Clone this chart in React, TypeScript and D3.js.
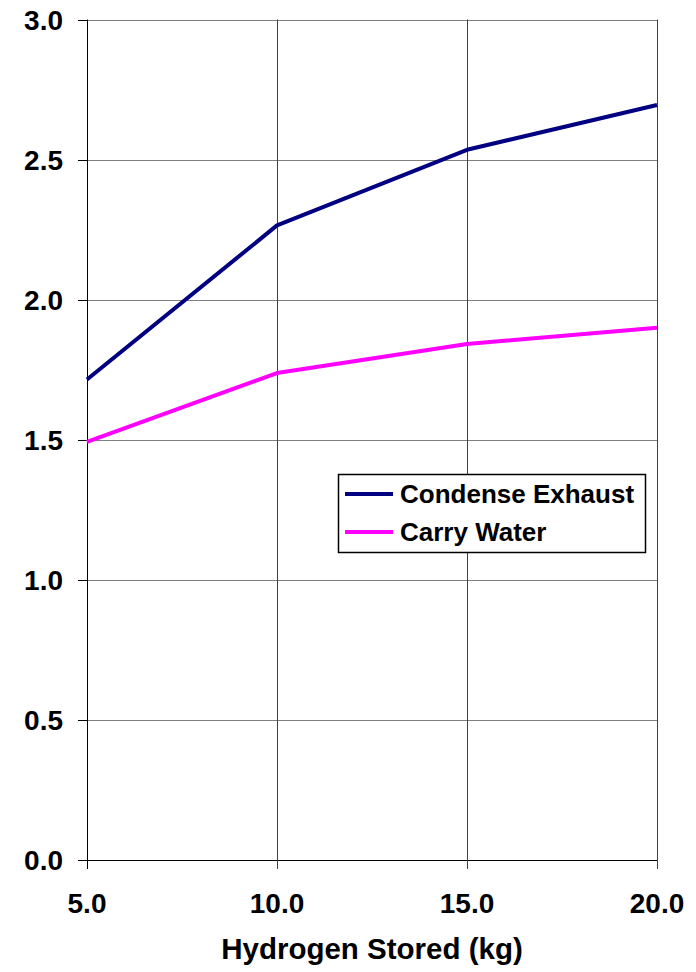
import React from "react";
import * as d3 from "d3";

const hydrogen = [5, 10, 15, 20];
const condenseExhaust = [1.715, 2.265, 2.535, 2.695];
const carryWater = [1.492, 1.738, 1.842, 1.9];
const xTicks = [5, 10, 15, 20];
const yTicks = [0, 0.5, 1.0, 1.5, 2.0, 2.5, 3.0];
const seriesNames = ["Condense Exhaust", "Carry Water"];
const seriesColors = ["#000080", "#FF00FF"];

export default function App() {
  const W = 696, H = 972;
  const left = 87, right = 657, top = 19.5, bottom = 860;
  const x = d3.scaleLinear().domain([5, 20]).range([left, right]);
  const y = d3.scaleLinear().domain([0, 3]).range([bottom, top]);
  const line = d3.line<number>().x((_, i) => x(hydrogen[i])).y((d) => y(d));
  const series = [condenseExhaust, carryWater];
  const font = "'Liberation Sans', Arial, sans-serif";
  return (
    <svg width={W} height={H} style={{ position: "absolute", left: 0, top: 0 }}>
      <rect width={W} height={H} fill="#fff" />
      {yTicks.map((t) => (
        <g key={"y" + t}>
          <line x1={left} x2={right} y1={Math.round(y(t)) + 0.5} y2={Math.round(y(t)) + 0.5} stroke={t === 0 ? "#000" : "#808080"} strokeWidth={1} />
          <line x1={left - 9} x2={left} y1={Math.round(y(t)) + 0.5} y2={Math.round(y(t)) + 0.5} stroke="#000" />
          <text x={63} y={y(t)} dy="0.36em" textAnchor="end" fontFamily={font} fontWeight="bold" fontSize={28}>{t.toFixed(1)}</text>
        </g>
      ))}
      {xTicks.map((t) => (
        <g key={"x" + t}>
          <line x1={Math.round(x(t)) + 0.5} x2={Math.round(x(t)) + 0.5} y1={top} y2={bottom + 9} stroke={t === 5 ? "#000" : "#404040"} strokeWidth={1} />
          <text x={x(t)} y={913} textAnchor="middle" fontFamily={font} fontWeight="bold" fontSize={28}>{t.toFixed(1)}</text>
        </g>
      ))}
      {series.map((s, i) => (
        <path key={i} d={line(s) || ""} fill="none" stroke={seriesColors[i]} strokeWidth={4} strokeLinejoin="round" />
      ))}
      <g>
        <rect x={338.5} y={474.5} width={307} height={78} fill="#fff" stroke="#000" strokeWidth={1.5} />
        {seriesNames.map((n, i) => (
          <g key={n}>
            <line x1={345} x2={393} y1={494 + i * 38} y2={494 + i * 38} stroke={seriesColors[i]} strokeWidth={4} />
            <text x={400} y={494 + i * 38} dy="0.36em" fontFamily={font} fontWeight="bold" fontSize={26}>{n}</text>
          </g>
        ))}
      </g>
      <text x={372} y={959} textAnchor="middle" fontFamily={font} fontWeight="bold" fontSize={29.5}>Hydrogen Stored (kg)</text>
    </svg>
  );
}
